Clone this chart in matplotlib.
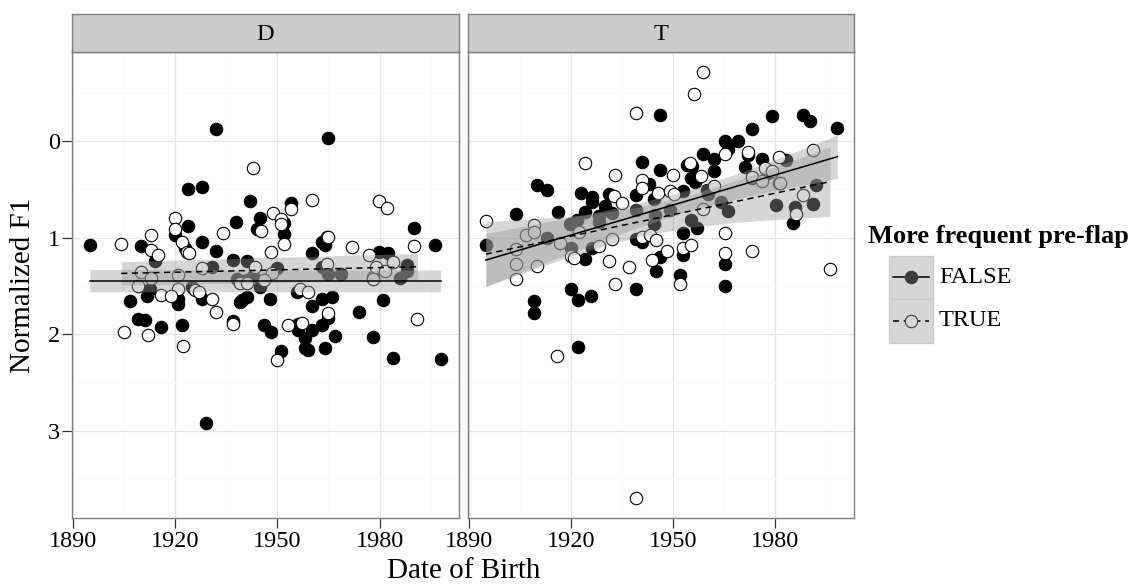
import numpy as np
import matplotlib
matplotlib.use("Agg")
import matplotlib.pyplot as plt
from matplotlib.patches import Rectangle
from matplotlib.lines import Line2D

plt.rcParams['font.family'] = ['Liberation Serif', 'DejaVu Serif']

# ---------------- data ----------------
facets = ["D", "T"]
groups = ["FALSE", "TRUE"]
legend_title = "More frequent pre-flap"
x_label = "Date of Birth"
y_label = "Normalized F1"
x_ticks = [1890, 1920, 1950, 1980]
y_ticks = [0, 1, 2, 3]

# Panel D, FALSE (filled)
d_false_x = [1895.1, 1910.0, 1914.1, 1920.0, 1922.9, 1923.9, 1923.9, 1927.9, 1927.9, 1931.9,
             1931.9, 1937.9, 1941.9, 1944.9, 1944.0, 1952.0, 1952.0, 1954.0, 1965.0, 1963.0,
             1964.0, 1960.1, 1990.1, 1996.2, 1979.9, 1982.5, 1930.9, 1936.9, 1941.0, 1938.1,
             1943.0, 1949.8, 1963.0, 1965.0, 1968.8, 1986.0, 1987.9, 1987.9, 1941.0, 1912.7,
             1924.9, 1945.0, 1955.9,
             1906.8, 1909.0, 1911.2, 1915.9, 1911.9, 1921.0, 1921.0, 1922.0, 1928.0, 1929.0,
             1936.9, 1939.1, 1941.0, 1947.9, 1946.0, 1948.1, 1951.0, 1956.0, 1956.0, 1958.1,
             1958.1, 1959.1, 1960.1, 1960.1, 1963.0, 1966.0, 1965.0, 1963.0, 1964.0, 1966.9,
             1974.0, 1978.0, 1980.9, 1984.0, 1998.0, 1939.6]
d_false_y = [1.08, 1.09, 1.24, 0.97, 1.11, 0.50, 0.88, 0.48, 1.04, -0.12,
             1.14, 0.84, 0.62, 0.80, 0.91, 0.85, 0.96, 0.64, -0.03, 1.04,
             1.08, 1.16, 0.90, 1.08, 1.15, 1.16, 1.30, 1.23, 1.24, 1.43,
             1.40, 1.31, 1.30, 1.38, 1.38, 1.42, 1.34, 1.28, 1.44, 1.53,
             1.51, 1.51, 1.56,
             1.66, 1.84, 1.85, 1.92, 1.60, 1.63, 1.69, 1.90, 1.64, 2.92,
             1.86, 1.67, 1.61, 1.63, 1.90, 1.98, 2.17, 1.89, 1.96, 2.04,
             2.14, 2.16, 1.96, 1.71, 1.64, 1.61, 1.83, 1.90, 2.14, 2.02,
             1.77, 2.03, 1.65, 2.25, 2.26, 1.65]

# Panel D, TRUE (open)
d_true_x = [1904.0, 1913.0, 1913.0, 1914.9, 1920.0, 1920.0, 1922.0, 1923.4, 1924.2, 1934.0,
            1943.0, 1945.1, 1948.8, 1951.0, 1951.0, 1952.0, 1954.0, 1948.1, 1960.1, 1964.5,
            1965.0, 1971.9, 1979.9, 1982.1, 1990.1, 1977.0, 1910.0, 1913.0, 1921.0, 1928.0,
            1943.5, 1948.4, 1964.5, 1978.0, 1978.0, 1979.0, 1981.6, 1984.0, 1946.0, 1909.1,
            1921.0, 1925.9, 1926.9, 1939.1, 1941.0, 1956.7, 1959.1,
            1904.9, 1912.0, 1915.9, 1918.8, 1922.2, 1930.9, 1931.9, 1936.9, 1953.0, 1950.0,
            1957.2, 1965.0, 1991.1]
d_true_y = [1.07, 0.97, 1.13, 1.18, 0.80, 0.91, 1.05, 1.15, 1.16, 0.95,
            0.28, 0.93, 0.74, 0.81, 0.86, 1.07, 0.70, 1.15, 0.61, 0.99,
            0.99, 1.10, 0.62, 0.69, 1.09, 1.18, 1.36, 1.42, 1.39, 1.31,
            1.30, 1.37, 1.27, 1.41, 1.43, 1.30, 1.34, 1.25, 1.44, 1.50,
            1.53, 1.54, 1.56, 1.47, 1.47, 1.53, 1.56,
            1.98, 2.01, 1.59, 1.60, 2.12, 1.63, 1.77, 1.89, 1.90, 2.27,
            1.88, 1.78, 1.84]

# Panel T, FALSE (filled)
t_false_x = [1895.1, 1904.0, 1910.1, 1913.0, 1913.0, 1909.1, 1909.1, 1916.1, 1920.0, 1920.0,
             1922.1, 1925.9, 1922.9, 1926.2, 1926.2, 1921.8, 1924.0, 1919.8, 1928.1, 1930.1,
             1931.1, 1932.1, 1926.2, 1924.0, 1939.1, 1946.0, 1941.0, 1942.8, 1939.1, 1939.1,
             1946.0, 1944.3, 1944.8, 1944.3, 1939.1, 1941.0, 1946.0, 1944.9, 1949.1, 1953.0,
             1953.0, 1952.1, 1954.1, 1955.5, 1955.2, 1957.0, 1956.5, 1955.2, 1957.0, 1958.9,
             1962.1, 1962.1, 1959.9, 1964.1, 1966.1, 1965.1, 1965.1, 1965.1, 1966.1, 1969.0,
             1972.1, 1971.1, 1973.1, 1976.1, 1979.1, 1983.0, 1980.2, 1981.0, 1985.8, 1985.1,
             1991.0, 1991.9, 1988.0, 1990.2, 1998.0, 1953.0, 1928.1, 1928.1, 1960.1, 1973.1,
             1977.9, 1922.1]
t_false_y = [1.08, 0.76, 0.45, 0.51, 1.00, 1.66, 1.78, 0.73, 1.11, 1.53,
             1.65, 1.60, 0.54, 0.58, 0.63, 0.82, 0.73, 0.86, 0.78, 0.67,
             0.55, 0.74, 1.11, 1.22, 1.53, -0.27, 0.22, 0.44, 0.56, 0.71,
             0.30, 0.60, 0.77, 0.86, 1.01, 1.04, 1.20, 1.35, 0.71, 0.95,
             1.18, 1.39, 0.25, 0.26, 0.38, 0.38, 0.42, 0.82, 0.90, 0.13,
             0.19, 0.31, 0.51, 0.63, 0.72, 1.27, 1.50, 0.00, 0.08, 0.00,
             0.14, 0.27, -0.12, 0.19, -0.26, 0.20, 0.66, 0.43, 0.68, 0.85,
             0.65, 0.46, -0.27, -0.21, -0.14, 0.52, 0.84, 0.78, 0.55, 0.38,
             0.33, 2.13]

# Panel T, TRUE (open)
t_true_x = [1895.1, 1904.0, 1904.0, 1904.0, 1906.9, 1909.1, 1909.1, 1909.9, 1916.9, 1920.1,
            1920.8, 1924.0, 1922.3, 1932.5, 1935.0, 1933.0, 1932.1, 1928.1, 1931.1, 1936.9,
            1933.0, 1939.1, 1941.0, 1940.9, 1949.9, 1945.7, 1949.1, 1950.4, 1940.9, 1943.3,
            1944.9, 1943.8, 1948.2, 1953.0, 1955.2, 1952.1, 1955.0, 1958.1, 1962.1, 1958.9,
            1965.1, 1965.1, 1956.0, 1958.9, 1965.1, 1972.1, 1973.1, 1976.1, 1977.0, 1979.0,
            1981.0, 1981.4, 1988.1, 1986.1, 1991.0, 1996.1, 1973.1, 1916.0, 1939.1]
t_true_y = [0.83, 1.12, 1.27, 1.43, 0.97, 0.87, 0.94, 1.29, 1.06, 1.19,
            1.21, 0.23, 0.94, 0.57, 0.64, 0.35, 1.01, 1.09, 1.24, 1.30,
            1.48, -0.29, 0.40, 0.49, 0.35, 0.54, 0.52, 0.55, 0.99, 0.97,
            1.02, 1.23, 1.14, 1.11, 1.08, 1.48, 0.23, 0.36, 0.47, 0.70,
            0.95, 1.16, -0.49, -0.71, 0.13, 0.11, 0.37, 0.41, 0.28, 0.31,
            0.16, 0.43, 0.56, 0.75, 0.09, 1.32, 1.14, 2.22, 3.69]

# Fitted trend lines and their confidence bands
d_false_fit_x = [1895.0, 1997.9]
d_false_fit_y = [1.446, 1.446]
d_false_band_lo = [1.330, 1.335]
d_false_band_hi = [1.560, 1.560]

d_true_fit_x = [1904.2, 1991.1]
d_true_fit_y = [1.370, 1.301]
d_true_band_lo = [1.249, 1.163]
d_true_band_hi = [1.490, 1.440]

t_false_fit_x = [1895.0, 1910.0, 1925.0, 1940.0, 1955.0, 1970.0, 1985.0, 1998.2]
t_false_fit_y = [1.232, 1.076, 0.921, 0.765, 0.610, 0.454, 0.299, 0.162]
t_false_band_lo = [0.956, 0.858, 0.756, 0.641, 0.500, 0.322, 0.122, -0.062]
t_false_band_hi = [1.508, 1.294, 1.086, 0.889, 0.720, 0.586, 0.476, 0.386]

t_true_fit_x = [1895.0, 1910.0, 1925.0, 1940.0, 1955.0, 1970.0, 1985.0, 1996.1]
t_true_fit_y = [1.170, 1.059, 0.947, 0.836, 0.725, 0.614, 0.502, 0.420]
t_true_band_lo = [0.835, 0.804, 0.759, 0.685, 0.558, 0.391, 0.203, 0.060]
t_true_band_hi = [1.505, 1.314, 1.135, 0.987, 0.892, 0.837, 0.801, 0.780]

panel_data = {
    "D": {"FALSE": (d_false_x, d_false_y), "TRUE": (d_true_x, d_true_y)},
    "T": {"FALSE": (t_false_x, t_false_y), "TRUE": (t_true_x, t_true_y)},
}
panel_fits = {
    "D": {"FALSE": (d_false_fit_x, d_false_fit_y, d_false_band_lo, d_false_band_hi),
          "TRUE": (d_true_fit_x, d_true_fit_y, d_true_band_lo, d_true_band_hi)},
    "T": {"FALSE": (t_false_fit_x, t_false_fit_y, t_false_band_lo, t_false_band_hi),
          "TRUE": (t_true_fit_x, t_true_fit_y, t_true_band_lo, t_true_band_hi)},
}

# ---------------- layout ----------------
W, H = 1134, 587
fig = plt.figure(figsize=(W / 100, H / 100), dpi=100)

def fx(px):
    return px / W

def fy(py):
    return 1 - py / H

panel_left = [72.3, 468.3]
panel_right = [458.7, 854.3]
panel_top, panel_bottom = 51.7, 518.3
strip_top = 14.0

xlim = (1889.85, 2003.2)
ylim = (3.905, -0.925)

grey50 = '#7F7F7F'
line_styles = {"FALSE": '-', "TRUE": (0, (4, 3))}
pt_size = 80

for i, fac in enumerate(facets):
    ax = fig.add_axes([fx(panel_left[i]), fy(panel_bottom),
                       fx(panel_right[i] - panel_left[i]), (panel_bottom - panel_top) / H])
    ax.set_xlim(*xlim)
    ax.set_ylim(*ylim)
    ax.set_xticks(x_ticks)
    ax.set_xticks([t + 15 for t in x_ticks], minor=True)
    ax.set_yticks(y_ticks)
    ax.set_yticks([t + 0.5 for t in [-1] + y_ticks], minor=True)
    ax.grid(True, which='major', color='#E5E5E5', lw=0.9, zorder=0)
    ax.grid(True, which='minor', color='#FAFAFA', lw=0.7, zorder=0)
    ax.set_axisbelow(True)
    for sp in ax.spines.values():
        sp.set_color(grey50)
        sp.set_linewidth(1.0)
    ax.tick_params(which='major', length=7, width=0.9, color='#333333',
                   labelsize=17.5, pad=2, labelcolor='black')
    ax.tick_params(which='minor', length=0)
    if i > 0:
        ax.tick_params(axis='y', left=False, labelleft=False)

    for g in groups:
        x, y = panel_data[fac][g]
        if g == "FALSE":
            ax.scatter(x, y, s=pt_size, facecolor='black', edgecolor='black', lw=0.8, zorder=3)
        else:
            ax.scatter(x, y, s=pt_size, facecolor='white', edgecolor='black', lw=0.8, zorder=3)
    for g in groups:
        fxs, fys, lo, hi = panel_fits[fac][g]
        ax.fill_between(fxs, lo, hi, color='#999999', alpha=0.4, lw=0, zorder=4)
    for g in groups:
        fxs, fys, lo, hi = panel_fits[fac][g]
        ax.plot(fxs, fys, color='black', lw=1.1, ls=line_styles[g], zorder=5)

    # strip
    sax = fig.add_axes([fx(panel_left[i]), fy(panel_top),
                        fx(panel_right[i] - panel_left[i]), (panel_top - strip_top) / H])
    sax.set_xticks([]); sax.set_yticks([])
    sax.set_facecolor('#CCCCCC')
    for sp in sax.spines.values():
        sp.set_color(grey50)
        sp.set_linewidth(1.0)
    sax.text(0.5, 0.45, fac, ha='center', va='center', fontsize=17.5, transform=sax.transAxes)

fig.text(fx((72.3 + 854.3) / 2), fy(571), x_label, ha='center', va='center', fontsize=21)
fig.text(fx(23), fy(285), y_label, ha='center', va='center', fontsize=21, rotation=90)

# legend (drawn manually)
fig.text(fx(868), fy(236), legend_title, ha='left', va='center', fontsize=19, fontweight='bold')
key_x0, key_x1 = 888.5, 933
key_rows = [(255.5, 299), (299, 343)]
lax = fig.add_axes([0, 0, 1, 1])
lax.set_xlim(0, W); lax.set_ylim(H, 0)
lax.axis('off')
for (y0, y1), g in zip(key_rows, groups):
    lax.add_patch(Rectangle((key_x0, y0), key_x1 - key_x0, y1 - y0,
                            facecolor='#D6D6D6', edgecolor='#CCCCCC', lw=1.0))
    yc = (y0 + y1) / 2
    lax.add_line(Line2D([key_x0 + 4, key_x1 - 4], [yc, yc], color='black', lw=1.1,
                        ls=line_styles[g]))
    if g == "FALSE":
        lax.scatter([(key_x0 + key_x1) / 2], [yc], s=pt_size, facecolor='#3D3D3D',
                    edgecolor='#3D3D3D', lw=0.8, zorder=3)
    else:
        lax.scatter([(key_x0 + key_x1) / 2], [yc], s=pt_size, facecolor='#D6D6D6',
                    edgecolor='#3D3D3D', lw=0.8, zorder=3)
    lax.text(939, yc, g, ha='left', va='center', fontsize=17.5)

fig.savefig("out.png", dpi=100)
